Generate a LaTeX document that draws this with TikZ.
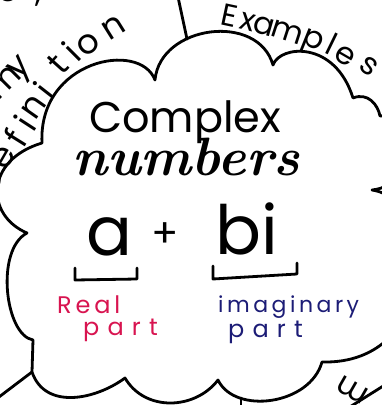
\documentclass[tikz,border=0pt]{standalone}
\usepackage{fontspec}
\setmainfont{Poppins}
\newfontfamily\handfont{Poppins}[LetterSpace=16]
\newfontfamily\cursivefont{Latin Modern Roman}
\usetikzlibrary{calc}
\definecolor{inkred}{RGB}{216,20,80}
\definecolor{inkblue}{RGB}{28,28,118}
\tikzset{
    pen/.style={line width=2.8pt, line cap=round, line join=round},
    letter/.style={inner sep=0pt, font=\fontsize{31}{31}\selectfont},
    bigletter/.style={inner sep=0pt, font=\fontsize{34}{34}\selectfont},
    label/.style={inner sep=0pt, anchor=base west, font=\handfont\fontsize{24}{24}\selectfont},
    wide/.style={font=\handfont\addfontfeature{LetterSpace=34}\fontsize{24}{24}\selectfont}
}
\begin{document}
\begin{tikzpicture}[x=1pt,y=-1pt]
    \useasboundingbox (0,0) rectangle (382,405);
    \clip (0,0) rectangle (382,405);

    % Cloud cusps (pixel positions, y down)
    \coordinate (C1) at (155,80);     % top left cusp
    \coordinate (C2) at (273,65);     % top middle cusp
    \coordinate (C3) at (353,98);     % top right cusp
    \coordinate (C4) at (380,116);    % right edge cusp
    \coordinate (C5) at (372,190);    % right cusp
    \coordinate (C6) at (322,362);    % bottom right cusp
    \coordinate (C7) at (218,380);    % bottom cusp
    \coordinate (C8) at (125,378);    % bottom left cusp
    \coordinate (C9) at (32,372);     % corner junction
    \coordinate (C10) at (33,340);    % left low cusp
    \coordinate (C11) at (27,233);    % left cusp
    \coordinate (C12) at (42,143);    % left high cusp

    \def\CLOUD{
        (C1) .. controls (160,25) and (258,12) .. (C2)
        .. controls (280,45) and (335,40) .. (C3)
        .. controls (368,92) and (378,105) .. (C4)
        .. controls (420,110) and (420,185) .. (C5)
        .. controls (440,200) and (440,365) .. (C6)
        .. controls (310,405) and (235,415) .. (C7)
        .. controls (195,410) and (145,412) .. (C8)
        .. controls (95,400) and (45,410) .. (C9)
        -- (C10)
        .. controls (5,335) and (-5,250) .. (C11)
        .. controls (-15,215) and (-15,160) .. (C12)
        .. controls (38,60) and (140,40) .. (C1)
    }
    \draw[pen] \CLOUD;

    % Dividers between the regions
    \coordinate (T1) at (178,-3);
    \coordinate (T2) at (187,39);
    \coordinate (L1) at (-5,400);
    \coordinate (B1) at (241,398);
    \coordinate (B2) at (241,412);
    \coordinate (R1) at (345,410);
    \coordinate (R2) at (388,383);
    \draw[pen] (T1) -- (T2);
    \draw[pen] (C9) -- (L1);
    \draw[pen] (B1) -- (B2);
    \draw[pen] (R1) -- (R2);

    % Title
    \node[inner sep=0pt, anchor=base west, font=\fontsize{43}{43}\selectfont] (complex) at (89,132) {Complex};
    \node[inner sep=0pt, anchor=base west, font=\cursivefont\bfseries\itshape\fontsize{54}{54}\selectfont] (numbers) at (72,175) {numbers};

    % a + bi
    \node[inner sep=0pt, anchor=base, font=\fontsize{68}{68}\selectfont] (a) at (109,255) {a};
    \node[inner sep=0pt, font=\fontsize{40}{40}\selectfont] (plus) at (165,235) {+};
    \node[inner sep=0pt, anchor=base, font=\fontsize{68}{68}\selectfont] (bi) at (247,254) {bi};
    \draw[pen] (75,268) -- (75,280) -- (137,279) -- (137,268);
    \draw[pen] (213,266) -- (213,279) -- (297,274) -- (297,263);

    \node[label, text=inkred] (real) at (57,313) {Real};
    \node[label, wide, text=inkred] (realpart) at (83,335) {part};
    \node[label, text=inkblue, font=\handfont\fontsize{22}{22}\selectfont] (imag) at (218,312) {imaginary};
    \node[label, wide, text=inkblue] (imagpart) at (228,337) {part};

    % Examples, letter by letter along the cloud
    \foreach \ch/\px/\py/\rot [count=\k] in {E/227/26/-12, x/246/30/-14, a/262/34/-16, m/285/40/-18,
        p/310/47/-22, l/327/54/-26, e/341/63/-30, s/364/73/-35}
        \node[letter, anchor=base, rotate=\rot] (ex\k) at (\px,\py) {\ch};

    % Definition, letter by letter (D is off the page)
    \foreach \ch/\px/\py/\rot [count=\k] in {D/-10/180/62, e/4/158/60, f/15/138/58, i/25/123/57, n/34/107/55,
        i/44/90/52, t/58/64/48, i/71/51/45, o/88/44/38, n/114/28/32}
        \node[bigletter, rotate=\rot] (df\k) at (\px,\py) {\ch};

    % Fragments of other headings
    \node[bigletter, rotate=45] (frag1) at (4,82) {m};
    \node[bigletter, rotate=45] (frag2) at (22,70) {y};
    \node[bigletter] (frag3) at (8,-8) {e};
    \node[bigletter] (frag4) at (39,2) {,};
    \node[letter, rotate=150] (frag5) at (352,390) {m};
\end{tikzpicture}
\end{document}
